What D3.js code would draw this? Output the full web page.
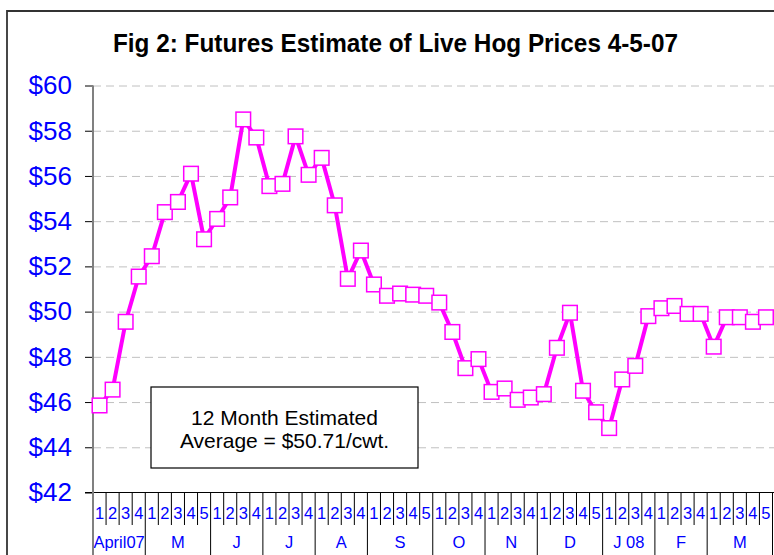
<!DOCTYPE html>
<html>
<head>
<meta charset="utf-8">
<script src="https://cdn.jsdelivr.net/npm/d3@7"></script>
<style>
  body { margin: 0; background: #fff; }
  text { font-family: "Liberation Sans", Arial, sans-serif; }
</style>
</head>
<body>
<svg id="hog_chart"></svg>
<script>
// week labels along the x axis
var weekLabels = ["1","2","3","4", "1","2","3","4","5", "1","2","3","4", "1","2","3","4",
                  "1","2","3","4", "1","2","3","4","5", "1","2","3","4", "1","2","3","4",
                  "1","2","3","4","5", "1","2","3","4", "1","2","3","4", "1","2","3","4","5"];

// month names and how many weeks each one covers
var monthNames = ["April07", "M", "J", "J", "A", "S", "O", "N", "D", "J 08", "F", "M"];
var monthWeeks = [4, 5, 4, 4, 4, 5, 4, 4, 5, 4, 4, 5];

// weekly futures estimate, $/cwt
var prices = [45.85, 46.55, 49.55, 51.55, 52.45, 54.4, 54.85, 56.1, 53.2, 54.1,
              55.05, 58.5, 57.7, 55.55, 55.65, 57.75, 56.05, 56.8, 54.7, 51.45,
              52.7, 51.2, 50.7, 50.8, 50.75, 50.7, 50.4, 49.1, 47.5, 47.9,
              46.45, 46.6, 46.1, 46.2, 46.35, 48.4, 49.95, 46.5, 45.55, 44.85,
              47.0, 47.6, 49.8, 50.15, 50.25, 49.9, 49.9, 48.45, 49.75, 49.75,
              49.55, 49.75];

var yTicks = [42, 44, 46, 48, 50, 52, 54, 56, 58, 60];

var W = 774, H = 555;
// plot area edges (window.top is taken, so keep them in an object)
var plot = {left: 93, right: 772.5, top: 85.5, bottom: 492.5};

var svg = d3.select("#hog_chart")
  .attr("width", W)
  .attr("height", H);

// category index for each week
var idx = weekLabels.map(function(d, i) { return i; });

var x = d3.scaleBand()
  .domain(idx)
  .range([plot.left, plot.right])
  .padding(0);

var y = d3.scaleLinear()
  .domain([42, 60])
  .range([plot.bottom, plot.top]);

// outer frame (only left and top are visible)
svg.append("path")
  .attr("d", "M7," + H + "V11H" + W)
  .attr("fill", "none")
  .attr("stroke", "#333")
  .attr("stroke-width", 1.8);

// title
svg.append("text")
  .attr("x", 395.5)
  .attr("y", 52)
  .attr("text-anchor", "middle")
  .attr("font-size", 25)
  .attr("font-weight", "bold")
  .attr("textLength", 565)
  .attr("lengthAdjust", "spacingAndGlyphs")
  .text("Fig 2: Futures Estimate of Live Hog Prices 4-5-07");

// dashed gridlines
svg.append("g")
  .attr("class", "grid")
  .attr("transform", "translate(" + plot.left + ",0)")
  .call(d3.axisRight(y).tickValues(yTicks.slice(1)).tickSize(W - plot.left).tickFormat(""))
  .call(function(g) {
    g.select(".domain").remove();
    g.selectAll("line")
      .attr("stroke", "#c0c0c0")
      .attr("stroke-width", 1)
      .attr("stroke-dasharray", "8,5");
  });

// y axis with dollar labels
svg.append("g")
  .attr("class", "yAxis")
  .attr("transform", "translate(" + plot.left + ",0)")
  .call(d3.axisLeft(y).tickValues(yTicks).tickSize(8).tickPadding(13).tickFormat(function(d) { return "$" + d; }))
  .call(function(g) {
    g.select(".domain").remove();
    g.selectAll(".tick line").attr("stroke", "#000");
    g.selectAll(".tick text")
      .attr("fill", "#0000ff")
      .attr("font-size", 26)
      .attr("font-family", "Liberation Sans, Arial, sans-serif");
  });

// x axis baseline
svg.append("line")
  .attr("x1", plot.left - 8).attr("x2", W)
  .attr("y1", plot.bottom).attr("y2", plot.bottom)
  .attr("stroke", "#000")
  .attr("stroke-width", 1.2);

// week and month separators
var monthStarts = [];
var acc = 0;
monthWeeks.forEach(function(n) { monthStarts.push(acc); acc += n; });

svg.append("g")
  .selectAll("line")
  .data(idx.slice(1).concat([idx.length]))
  .enter()
  .append("line")
  .attr("x1", function(d) { return d < idx.length ? x(d) : plot.right; })
  .attr("x2", function(d) { return d < idx.length ? x(d) : plot.right; })
  .attr("y1", plot.bottom)
  .attr("y2", function(d) { return (monthStarts.indexOf(d) >= 0 || d == idx.length) ? H : 525; })
  .attr("stroke", "#000")
  .attr("stroke-width", 1);

// week numbers
svg.append("g")
  .selectAll("text")
  .data(weekLabels)
  .enter()
  .append("text")
  .attr("x", function(d, i) { return x(i) + x.bandwidth() / 2; })
  .attr("y", 518.5)
  .attr("text-anchor", "middle")
  .attr("font-size", 16.5)
  .attr("fill", "#0000ff")
  .text(function(d) { return d; });

// month labels centred under their weeks
svg.append("g")
  .selectAll("text")
  .data(monthNames)
  .enter()
  .append("text")
  .attr("x", function(d, i) {
    var s = monthStarts[i], e = s + monthWeeks[i] - 1;
    return (x(s) + x(e) + x.bandwidth()) / 2;
  })
  .attr("y", 547.5)
  .attr("text-anchor", "middle")
  .attr("font-size", 16.5)
  .attr("fill", "#0000ff")
  .text(function(d) { return d; });

// y axis line, runs down through the label rows
svg.append("line")
  .attr("x1", plot.left).attr("x2", plot.left)
  .attr("y1", plot.top).attr("y2", H)
  .attr("stroke", "#808080")
  .attr("stroke-width", 2);

// price line
var line = d3.line()
  .x(function(d, i) { return x(i) + x.bandwidth() / 2; })
  .y(function(d) { return y(d); });

svg.append("path")
  .datum(prices)
  .attr("d", line)
  .attr("fill", "none")
  .attr("stroke", "#ff00ff")
  .attr("stroke-width", 4)
  .attr("stroke-linejoin", "round");

// square markers
svg.append("g")
  .selectAll("rect")
  .data(prices)
  .enter()
  .append("rect")
  .attr("x", function(d, i) { return x(i) + x.bandwidth() / 2 - 7.3; })
  .attr("y", function(d) { return y(d) - 7.3; })
  .attr("width", 14.6)
  .attr("height", 14.6)
  .attr("fill", "#fff")
  .attr("stroke", "#ff00ff")
  .attr("stroke-width", 1.5);

// average note
svg.append("rect")
  .attr("x", 151).attr("y", 387)
  .attr("width", 267).attr("height", 81)
  .attr("fill", "#fff")
  .attr("stroke", "#000")
  .attr("stroke-width", 1.2);

svg.append("text")
  .attr("x", 284.5).attr("y", 425)
  .attr("text-anchor", "middle")
  .attr("font-size", 21)
  .text("12 Month Estimated");

svg.append("text")
  .attr("x", 284.5).attr("y", 448)
  .attr("text-anchor", "middle")
  .attr("font-size", 21)
  .text("Average = $50.71/cwt.");
</script>
</body>
</html>
